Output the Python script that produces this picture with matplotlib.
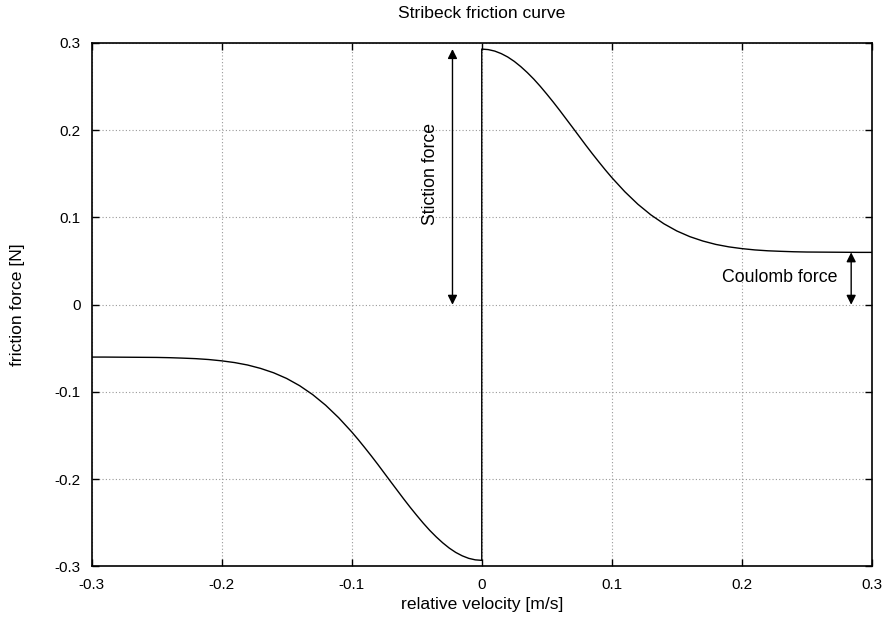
import numpy as np
import matplotlib
matplotlib.use("Agg")
import matplotlib.pyplot as plt

plt.rcParams['font.family'] = ['Liberation Sans', 'DejaVu Sans']

velocity = [0.000, 0.005, 0.010, 0.015, 0.020, 0.025, 0.030, 0.035, 0.040, 0.045,
            0.050, 0.055, 0.060, 0.065, 0.070, 0.075, 0.080, 0.085, 0.090, 0.095,
            0.10, 0.11, 0.12, 0.13, 0.14, 0.15, 0.16, 0.17, 0.18, 0.19, 0.20,
            0.21, 0.22, 0.23, 0.24, 0.25, 0.26, 0.27, 0.28, 0.29, 0.30]
friction = [0.2930, 0.2924, 0.2907, 0.2878, 0.2839, 0.2789, 0.2729, 0.2661, 0.2586, 0.2503,
            0.2414, 0.2322, 0.2226, 0.2127, 0.2028, 0.1928, 0.1828, 0.1731, 0.1637, 0.1545,
            0.1457, 0.1295, 0.1152, 0.1030, 0.0928, 0.0845, 0.0780, 0.0730, 0.0691, 0.0663, 0.0643,
            0.0628, 0.0618, 0.0612, 0.0607, 0.0604, 0.0603, 0.0602, 0.0601, 0.0600, 0.0600]

stiction = 0.293
coulomb = 0.060
stiction_arrow_x = -0.0225
coulomb_arrow_x = 0.284

ticks = [-0.3, -0.2, -0.1, 0, 0.1, 0.2, 0.3]
tick_labels = ["-0.3", "-0.2", "-0.1", "0", "0.1", "0.2", "0.3"]

v = np.array(velocity)
f = np.array(friction)
v_all = np.concatenate([-v[::-1], v])
f_all = np.concatenate([-f[::-1], f])

fig = plt.figure(figsize=(8.85, 6.21), dpi=100)
ax = fig.add_axes([0.1034, 0.0878, 0.8819, 0.843])

ax.plot(v_all, f_all, color="black", linewidth=1.0)

ax.set_xlim(-0.3, 0.3)
ax.set_ylim(-0.3, 0.3)
ax.set_xticks(ticks)
ax.set_xticklabels(tick_labels)
ax.set_yticks(ticks)
ax.set_yticklabels(tick_labels)
ax.tick_params(direction="in", length=5, width=1, top=True, right=True,
               labelsize=11, pad=8)
ax.grid(True, linestyle=(0, (1, 2)), color="#999999", linewidth=0.8)
for s in ax.spines.values():
    s.set_linewidth(1.2)

arrow = dict(arrowstyle="<|-|>", color="black", lw=1.0,
             mutation_scale=14, shrinkA=0, shrinkB=0)
ax.annotate("", xy=(stiction_arrow_x, stiction), xytext=(stiction_arrow_x, 0),
            arrowprops=arrow)
ax.annotate("", xy=(coulomb_arrow_x, coulomb), xytext=(coulomb_arrow_x, 0),
            arrowprops=arrow)

ax.text(-0.0395, 0.15, "Stiction force", rotation=90, ha="center", va="center",
        fontsize=12.7)
ax.text(0.229, 0.031, "Coulomb force", ha="center", va="center", fontsize=12.8)

# title and x label are centred on the plot area, not the figure
xc = 481.8 / 885
fig.text(xc, 1 - 13 / 621, "Stribeck friction curve", ha="center", va="center",
         fontsize=12.6)
fig.text(xc, 1 - 605 / 621, "relative velocity [m/s]", ha="center", va="center",
         fontsize=12.6)
fig.text(18 / 885, 1 - 304.8 / 621, "friction force [N]", rotation=90, ha="center",
         va="center", fontsize=12.6)

fig.savefig("out.png", dpi=100)
